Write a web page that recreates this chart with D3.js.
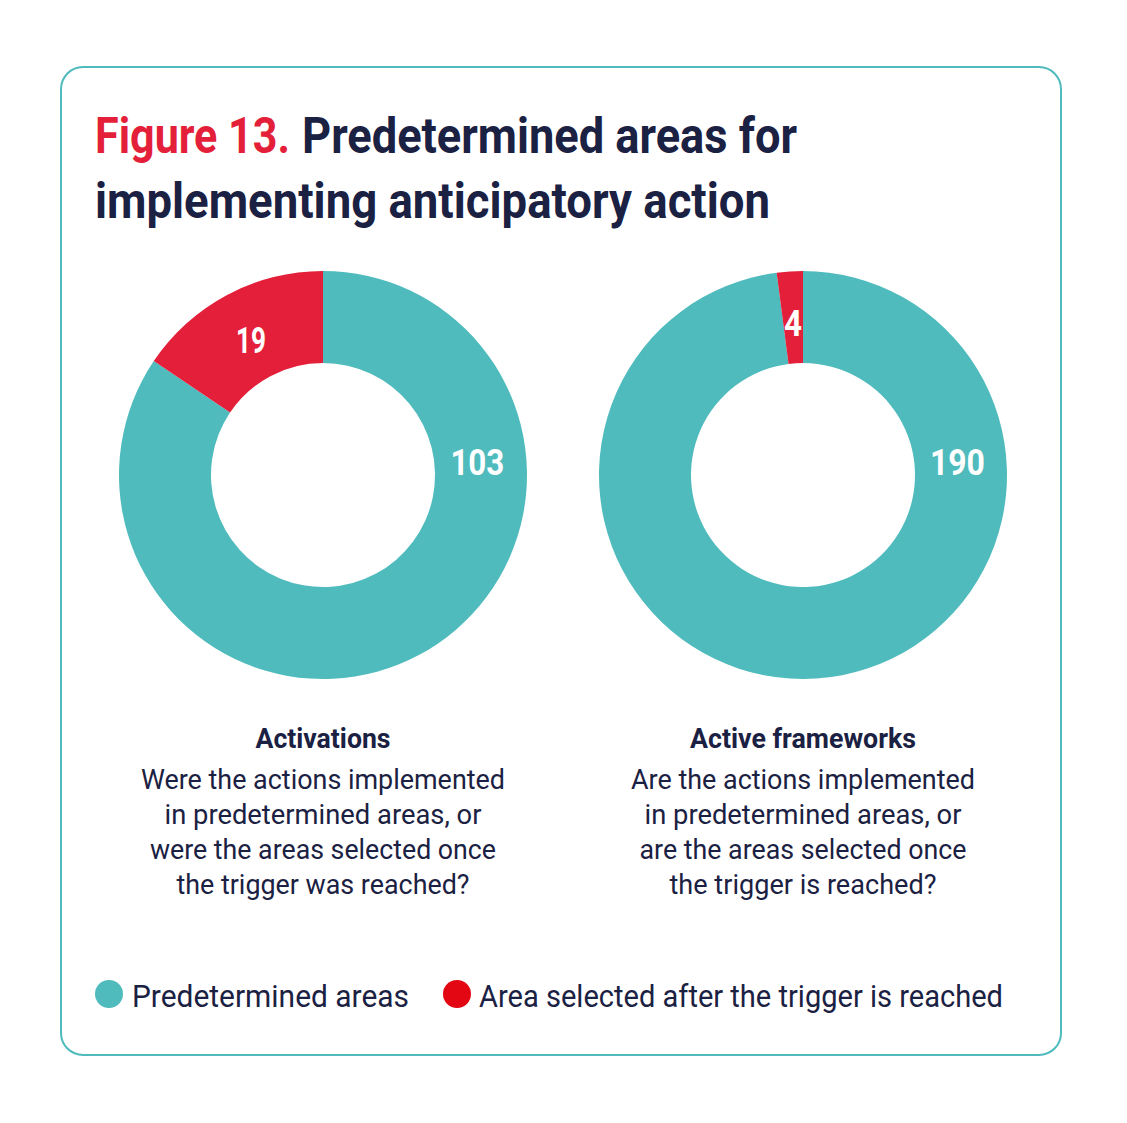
<!DOCTYPE html>
<html>
<head>
<meta charset="utf-8">
<script src="https://cdn.jsdelivr.net/npm/d3@7"></script>
<style>
  html, body { margin: 0; padding: 0; background: #ffffff; }
  svg { display: block; }
  text { font-family: Roboto, "Noto Sans", sans-serif; }
</style>
</head>
<body>
<svg id="chart" width="1127" height="1123"></svg>
<script>
// ---- data ----
const categories = ["Predetermined areas", "Area selected after the trigger is reached"];
const chartNames = ["Activations", "Active frameworks"];
const activationsValues = [103, 19];
const frameworksValues = [190, 4];
const descriptions = [
  ["Were the actions implemented", "in predetermined areas, or", "were the areas selected once", "the trigger was reached?"],
  ["Are the actions implemented", "in predetermined areas, or", "are the areas selected once", "the trigger is reached?"]
];
const titleRed = "Figure 13.";
const titleLines = ["Predetermined areas for", "implementing anticipatory action"];

// ---- styles ----
const teal = "#4FBBBD";
const red = "#E31F3A";
const legendRed = "#E30613";
const navy = "#1B2142";

const svg = d3.select("#chart");

function fit(sel, w) {
  sel.attr("textLength", w).attr("lengthAdjust", "spacingAndGlyphs");
  return sel;
}

// frame
svg.append("rect")
  .attr("x", 61).attr("y", 67).attr("width", 1000).attr("height", 988)
  .attr("rx", 22).attr("ry", 22)
  .attr("fill", "#fff").attr("stroke", teal).attr("stroke-width", 2);

// title
const t1 = svg.append("text").attr("x", 95).attr("y", 153)
  .attr("font-size", 50).attr("font-weight", 700).attr("fill", red).text(titleRed);
fit(t1, 195);
const t2 = svg.append("text").attr("x", 302).attr("y", 153)
  .attr("font-size", 50).attr("font-weight", 700).attr("fill", navy).text(titleLines[0]);
fit(t2, 495);
const t3 = svg.append("text").attr("x", 95).attr("y", 218)
  .attr("font-size", 50).attr("font-weight", 700).attr("fill", navy).text(titleLines[1]);
fit(t3, 675);

// donuts
const color = d3.scaleOrdinal().domain(categories).range([teal, red]);
const pie = d3.pie().sort(null).value(d => d.value);
const arc = d3.arc().innerRadius(112).outerRadius(204);
const labelArc = d3.arc().innerRadius(153).outerRadius(153);

const datasets = [activationsValues, frameworksValues];
const centers = [[323, 475], [803, 475]];
const numWidths = [[54, 30], [55, 18]];

datasets.forEach((vals, i) => {
  const data = vals.map((v, j) => ({ cat: categories[j], value: v }));
  const g = svg.append("g").attr("transform", `translate(${centers[i][0]},${centers[i][1]})`);
  const arcs = pie(data);
  g.selectAll("path").data(arcs).join("path")
    .attr("d", arc)
    .attr("fill", d => color(d.data.cat));

  arcs.forEach((a, j) => {
    let pos;
    if (j === 0) {
      // main slice label placed at the right side of the ring
      const ang = Math.PI / 2 - 0.09;
      pos = labelArc.centroid({ startAngle: ang, endAngle: ang });
      pos[0] += 2;
    } else {
      pos = labelArc.centroid(a);
    }
    const txt = g.append("text")
      .attr("x", pos[0]).attr("y", pos[1] + 1)
      .attr("text-anchor", "middle").attr("dominant-baseline", "central")
      .attr("font-size", 37).attr("font-weight", 700).attr("fill", "#fff")
      .text(a.data.value);
    fit(txt, numWidths[i][j]);
  });
});

// subtitles & descriptions
const subW = [135, 226];
const descW = [
  [364, 317, 346, 293],
  [344, 317, 327, 267]
];
centers.forEach((c, i) => {
  const s = svg.append("text").attr("x", c[0]).attr("y", 748)
    .attr("text-anchor", "middle").attr("font-size", 28).attr("font-weight", 700)
    .attr("fill", navy).text(chartNames[i]);
  fit(s, subW[i]);
  descriptions[i].forEach((line, k) => {
    const d = svg.append("text").attr("x", c[0]).attr("y", 789 + k * 35)
      .attr("text-anchor", "middle").attr("font-size", 28).attr("font-weight", 400)
      .attr("fill", navy).text(line);
    fit(d, descW[i][k]);
  });
});

// legend
const legendItems = [
  { cat: categories[0], cx: 109, tx: 132, w: 277, fill: teal },
  { cat: categories[1], cx: 457, tx: 479, w: 524, fill: legendRed }
];
legendItems.forEach(it => {
  svg.append("circle").attr("cx", it.cx).attr("cy", 994).attr("r", 14).attr("fill", it.fill);
  const t = svg.append("text").attr("x", it.tx).attr("y", 1007)
    .attr("font-size", 31).attr("font-weight", 400).attr("fill", navy).text(it.cat);
  fit(t, it.w);
});
</script>
</body>
</html>
